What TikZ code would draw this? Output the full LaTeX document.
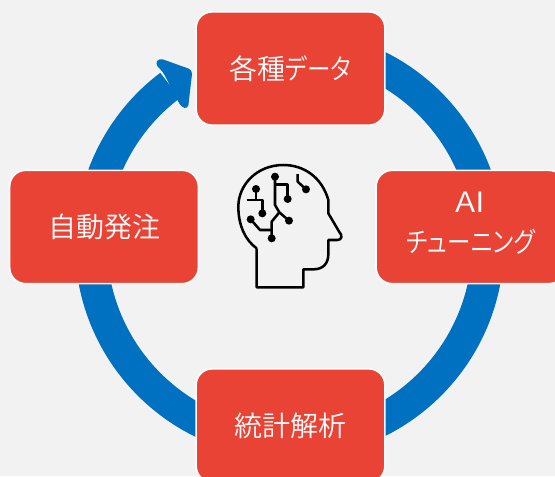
\documentclass[tikz,border=0pt]{standalone}
\usepackage{fontspec}
\newfontfamily\cjk{Noto Sans CJK JP}[UprightFont=* DemiLight,RawFeature=+palt]
\newfontfamily\kana{Noto Sans CJK JP}[UprightFont=* DemiLight,RawFeature=+palt,FakeStretch=.84]
\newfontfamily\latin{Noto Sans CJK JP}[UprightFont=* DemiLight,FakeStretch=1.2]
\definecolor{pagegray}{HTML}{F2F2F2}
\definecolor{boxred}{HTML}{E94335}
\definecolor{ringblue}{HTML}{0070C0}
\tikzset{
  stagebox/.style={draw=white,line width=1.2pt,fill=boxred,rounded corners=12pt,
    minimum width=141.5pt,minimum height=85pt,text=white,align=center,font=\cjk\fontsize{21}{30}\selectfont},
  stagetext/.style={text=white,align=center,font=\cjk\fontsize{21}{30}\selectfont},
  ringline/.style={draw=ringblue,line width=24pt},
  iconline/.style={draw=black,line width=1.9pt,line join=round},
  icondot/.style={fill=black}
}
\begin{document}
\begin{tikzpicture}[x=.75pt,y=.75pt]
      \useasboundingbox (0,0) rectangle (555,476);
      \clip (0,0) rectangle (555,476);
      \fill[pagegray] (0,0) rectangle (555,476);
      % ring and arrow head
      \coordinate (hub) at (289.5,232);
      \draw[ringline] (hub) ++(90:198.5) arc[start angle=90,end angle=-233,radius=198.5];
      \fill[ringblue,rounded corners=3pt] (163,404) -- (155,412) -- (159,418) -- (192.5,406) [sharp corners] -- (190,385) [rounded corners=3pt] -- (188,367) -- (181,369) -- (177,377) -- cycle;
      % boxes
      \node[stagebox] (data) at (290.5,407.5) {各種{\kana データ}};
      \node[stagebox] (tune) at (470.5,249) {};
      \node[stagetext,yshift=3pt] (tunetext) at (tune) {{\latin AI}\\{\kana チューニング}};
      \node[stagebox] (stat) at (290.5,50.5) {統計解析};
      \node[stagebox] (order) at (104,249) {自動発注};
      % head icon
      \begin{scope}[shift={(220,326)},x=.25pt,y=-.25pt]
        \draw[iconline] (110,295) -- (110,412) -- (250,412) -- (250,358) -- (280,358)
          .. controls (310,358) and (325,340) .. (325,312) -- (325,270) -- (352,270)
          .. controls (366,270) and (368,256) .. (358,246) -- (325,190) -- (325,150)
          .. controls (305,80) and (250,45) .. (190,45)
          .. controls (110,45) and (55,105) .. (55,170)
          .. controls (55,225) and (75,270) .. (110,295);
        % circuit lines
        \draw[iconline] (165,80) -- (165,165) -- (178,187) -- (207,212);
        \draw[iconline] (165,103) -- (203,103) -- (203,147);
        \draw[iconline] (178,187) -- (155,215) -- (155,265);
        \draw[iconline] (92,208) -- (120,240) -- (155,240);
        \draw[iconline] (108,117) -- (108,150);
        \draw[iconline] (80,150) -- (127,150) -- (127,190);
        \draw[iconline] (233,72) -- (233,95) -- (258,118);
        % dots
        \foreach \dotx/\doty in {165/80,203/147,207/212,155/265,92/208,108/117,127/190,258/118}
          \fill[icondot] (\dotx,\doty) circle (3pt);
      \end{scope}
    \end{tikzpicture}
\end{document}
